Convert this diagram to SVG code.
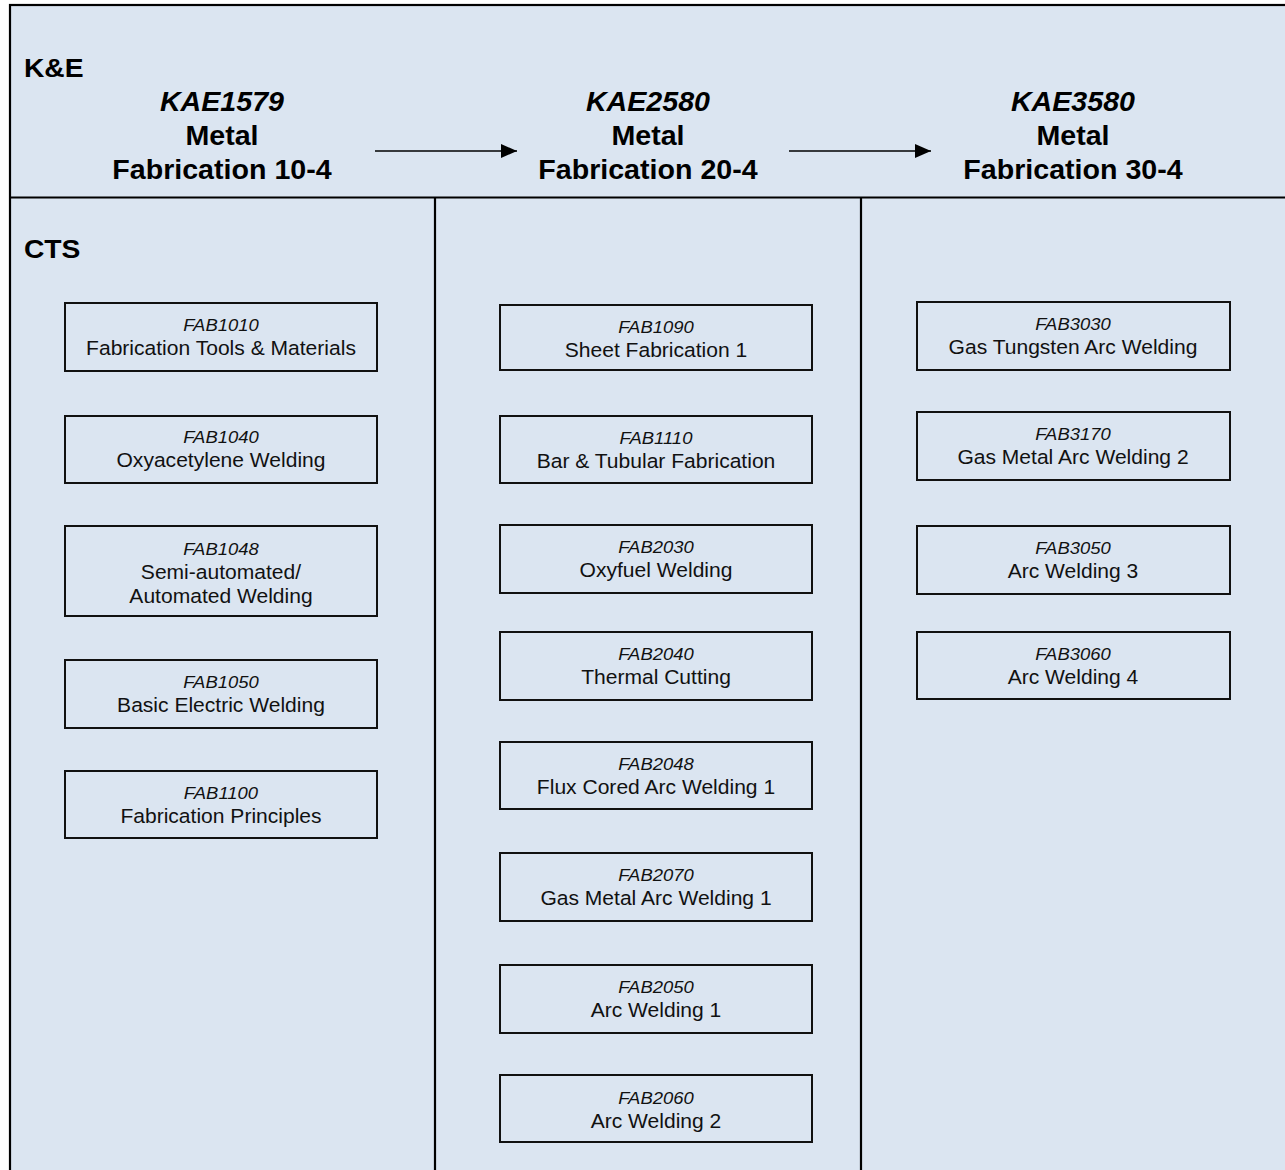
<svg xmlns="http://www.w3.org/2000/svg" width="1285" height="1170" viewBox="0 0 1285 1170">
<defs>
<marker id="arr" viewBox="0 0 16 14" refX="16" refY="7" markerWidth="16" markerHeight="14" markerUnits="userSpaceOnUse" orient="auto">
<path d="M0,0 L16,7 L0,14 Z" fill="#000"/>
</marker>
</defs>
<style>
.frame{fill:#DBE5F1;stroke:#000;stroke-width:2.2}
.div{stroke:#000;stroke-width:2.2;fill:none}
.box{fill:#DBE5F1;stroke:#111;stroke-width:2}
.conn{stroke:#000;stroke-width:1.3;fill:none}
text{font-family:"Liberation Sans",Arial,Helvetica,sans-serif;fill:#000}
.sec{font-size:25px;font-weight:bold;transform-box:fill-box;transform-origin:left;transform:scaleX(1.13)}
.hc{font-size:27px;font-weight:bold;font-style:italic;text-anchor:middle;transform-box:fill-box;transform-origin:center;transform:scaleX(1.06)}
.ht{font-size:27px;font-weight:bold;text-anchor:middle;transform-box:fill-box;transform-origin:center;transform:scaleX(1.06)}
.code{font-size:16.5px;font-style:italic;text-anchor:middle;fill:#111;transform-box:fill-box;transform-origin:center;transform:scaleX(1.12)}
.title{font-size:19.5px;text-anchor:middle;fill:#111;transform-box:fill-box;transform-origin:center;transform:scaleX(1.08)}
</style>
<rect x="0" y="0" width="1285" height="1170" fill="#fff"/>
<rect class="frame" x="10" y="5" width="1290" height="1180"/>
<line class="div" x1="10" y1="197.5" x2="1285" y2="197.5"/>
<line class="div" x1="435" y1="197.5" x2="435" y2="1170"/>
<line class="div" x1="861" y1="197.5" x2="861" y2="1170"/>
<text class="sec" x="24" y="77">K&amp;E</text>
<text class="sec" x="24" y="258">CTS</text>
<g id="KAE1579">
<text class="hc" x="222" y="111">KAE1579</text>
<text class="ht" x="222" y="145">Metal</text>
<text class="ht" x="222" y="179">Fabrication 10-4</text>
</g>
<g id="KAE2580">
<text class="hc" x="648" y="111">KAE2580</text>
<text class="ht" x="648" y="145">Metal</text>
<text class="ht" x="648" y="179">Fabrication 20-4</text>
</g>
<g id="KAE3580">
<text class="hc" x="1073" y="111">KAE3580</text>
<text class="ht" x="1073" y="145">Metal</text>
<text class="ht" x="1073" y="179">Fabrication 30-4</text>
</g>
<g id="connectors">
<line class="conn" x1="375" y1="151" x2="517" y2="151" marker-end="url(#arr)"/>
<line class="conn" x1="789" y1="151" x2="931" y2="151" marker-end="url(#arr)"/>
</g>
<g id="FAB1010"><rect class="box" x="65" y="303" width="312" height="68"/><text class="code" x="221" y="331">FAB1010</text><text class="title" x="221" y="355">Fabrication Tools &amp; Materials</text></g>
<g id="FAB1040"><rect class="box" x="65" y="416" width="312" height="67"/><text class="code" x="221" y="443">FAB1040</text><text class="title" x="221" y="467">Oxyacetylene Welding</text></g>
<g id="FAB1048"><rect class="box" x="65" y="526" width="312" height="90"/><text class="code" x="221" y="555">FAB1048</text><text class="title" x="221" y="579">Semi-automated/</text><text class="title" x="221" y="603">Automated Welding</text></g>
<g id="FAB1050"><rect class="box" x="65" y="660" width="312" height="68"/><text class="code" x="221" y="688">FAB1050</text><text class="title" x="221" y="712">Basic Electric Welding</text></g>
<g id="FAB1100"><rect class="box" x="65" y="771" width="312" height="67"/><text class="code" x="221" y="799">FAB1100</text><text class="title" x="221" y="823">Fabrication Principles</text></g>
<g id="FAB1090"><rect class="box" x="500" y="305" width="312" height="65"/><text class="code" x="656" y="333">FAB1090</text><text class="title" x="656" y="357">Sheet Fabrication 1</text></g>
<g id="FAB1110"><rect class="box" x="500" y="416" width="312" height="67"/><text class="code" x="656" y="444">FAB1110</text><text class="title" x="656" y="468">Bar &amp; Tubular Fabrication</text></g>
<g id="FAB2030"><rect class="box" x="500" y="525" width="312" height="68"/><text class="code" x="656" y="553">FAB2030</text><text class="title" x="656" y="577">Oxyfuel Welding</text></g>
<g id="FAB2040"><rect class="box" x="500" y="632" width="312" height="68"/><text class="code" x="656" y="660">FAB2040</text><text class="title" x="656" y="684">Thermal Cutting</text></g>
<g id="FAB2048"><rect class="box" x="500" y="742" width="312" height="67"/><text class="code" x="656" y="770">FAB2048</text><text class="title" x="656" y="794">Flux Cored Arc Welding 1</text></g>
<g id="FAB2070"><rect class="box" x="500" y="853" width="312" height="68"/><text class="code" x="656" y="881">FAB2070</text><text class="title" x="656" y="905">Gas Metal Arc Welding 1</text></g>
<g id="FAB2050"><rect class="box" x="500" y="965" width="312" height="68"/><text class="code" x="656" y="993">FAB2050</text><text class="title" x="656" y="1017">Arc Welding 1</text></g>
<g id="FAB2060"><rect class="box" x="500" y="1075" width="312" height="67"/><text class="code" x="656" y="1104">FAB2060</text><text class="title" x="656" y="1128">Arc Welding 2</text></g>
<g id="FAB3030"><rect class="box" x="917" y="302" width="313" height="68"/><text class="code" x="1073" y="330">FAB3030</text><text class="title" x="1073" y="354">Gas Tungsten Arc Welding</text></g>
<g id="FAB3170"><rect class="box" x="917" y="412" width="313" height="68"/><text class="code" x="1073" y="440">FAB3170</text><text class="title" x="1073" y="464">Gas Metal Arc Welding 2</text></g>
<g id="FAB3050"><rect class="box" x="917" y="526" width="313" height="68"/><text class="code" x="1073" y="554">FAB3050</text><text class="title" x="1073" y="578">Arc Welding 3</text></g>
<g id="FAB3060"><rect class="box" x="917" y="632" width="313" height="67"/><text class="code" x="1073" y="660">FAB3060</text><text class="title" x="1073" y="684">Arc Welding 4</text></g>
</svg>
